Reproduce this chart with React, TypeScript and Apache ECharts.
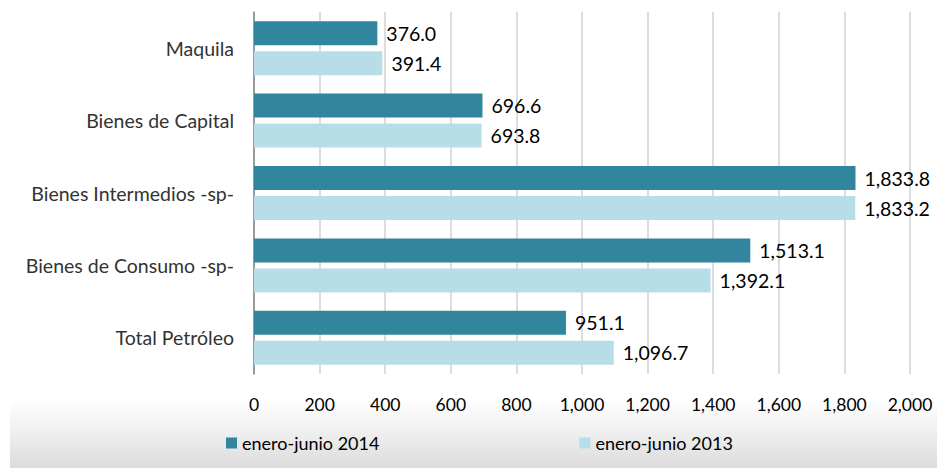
import React, { useEffect, useRef } from "react";
import * as echarts from "echarts";

const categories = ["Maquila", "Bienes de Capital", "Bienes Intermedios -sp-", "Bienes de Consumo -sp-", "Total Petróleo"];
const series2014 = [376.0, 696.6, 1833.8, 1513.1, 951.1];
const series2013 = [391.4, 693.8, 1833.2, 1392.1, 1096.7];
const seriesNames = ["enero-junio 2014", "enero-junio 2013"];
const xTicks = { min: 0, max: 2000, interval: 200 };

const FONT = "Lato";

const fmt = (v: number) =>
  v.toLocaleString("en-US", { minimumFractionDigits: 1, maximumFractionDigits: 1 });

export default function App() {
  const ref = useRef<HTMLDivElement>(null);
  useEffect(() => {
    if (!ref.current) return;
    const chart = echarts.init(ref.current, undefined, { renderer: "svg" });
    const labelCfg = {
      show: true,
      position: "right",
      distance: 9,
      color: "#000",
      fontFamily: FONT,
      fontSize: 19.5,
      formatter: (p: any) => fmt(p.value),
    };
    chart.setOption({
      animation: false,
      backgroundColor: "#fff",
      textStyle: { fontFamily: FONT },
      graphic: [
        {
          type: "rect",
          z: -10,
          silent: true,
          shape: { x: 10, y: 400, width: 935, height: 76 },
          style: {
            fill: new echarts.graphic.LinearGradient(0, 0, 0, 1, [
              { offset: 0, color: "#ffffff" },
              { offset: 1, color: "#d8d8d8" },
            ]),
          },
        },
      ],
      legend: {
        data: seriesNames,
        left: 221,
        top: 429,
        itemWidth: 11,
        itemHeight: 11,
        itemGap: 200,
        icon: "rect",
        textStyle: { fontFamily: FONT, fontSize: 18, color: "#000" },
      },
      grid: { left: 254, right: 35, top: 12, bottom: 102, containLabel: false },
      xAxis: {
        type: "value",
        min: xTicks.min,
        max: xTicks.max,
        interval: xTicks.interval,
        axisLine: { show: false },
        axisTick: { show: false },
        splitLine: { show: true, lineStyle: { color: "#d0d0d0", width: 1.5 } },
        axisLabel: {
          margin: 21,
          color: "#000",
          fontFamily: FONT,
          fontSize: 17.5,
          formatter: (v: number) => v.toLocaleString("en-US"),
        },
      },
      yAxis: {
        type: "category",
        data: categories,
        inverse: true,
        axisLine: { show: true, lineStyle: { color: "#868686", width: 1.5 } },
        axisTick: { show: false },
        splitLine: { show: false },
        axisLabel: {
          margin: 20,
          color: "#333",
          fontFamily: FONT,
          fontSize: 19.5,
        },
      },
      series: [
        {
          name: seriesNames[0],
          type: "bar",
          data: series2014,
          barWidth: 24,
          barGap: "25%",
          itemStyle: { color: "#31859C" },
          label: labelCfg,
        },
        {
          name: seriesNames[1],
          type: "bar",
          data: series2013,
          barWidth: 24,
          barGap: "25%",
          itemStyle: { color: "#B7DEE8" },
          label: labelCfg,
        },
      ],
    });
    return () => chart.dispose();
  }, []);
  return <div ref={ref} style={{ width: 945, height: 476, margin: -8 }} />;
}
